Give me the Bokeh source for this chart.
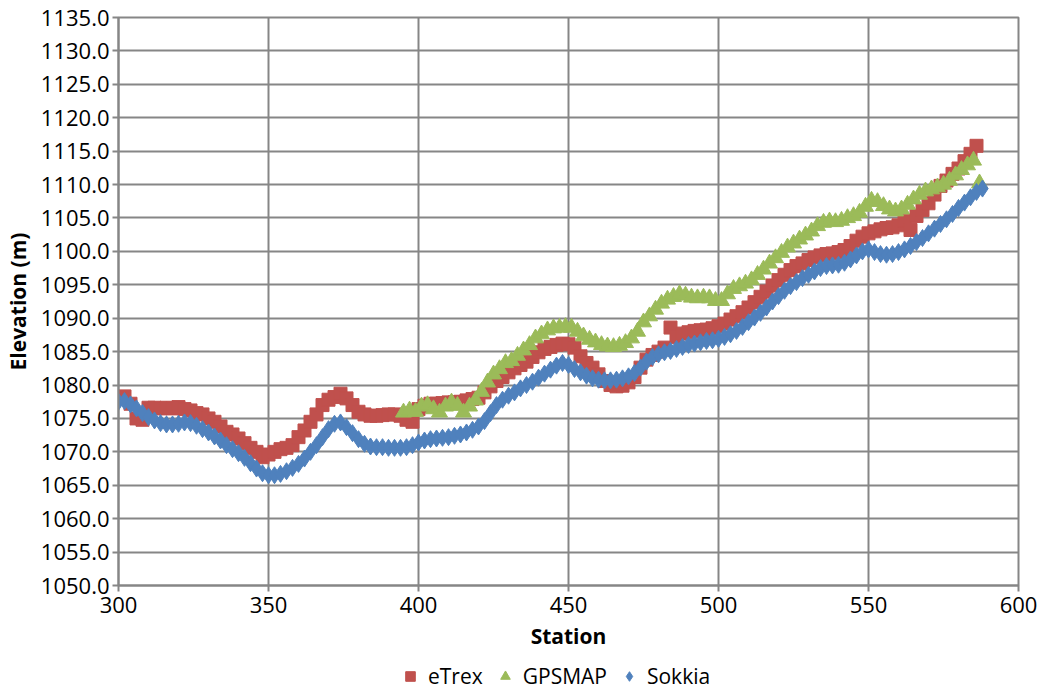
from bokeh.plotting import figure
from bokeh.layouts import column
from bokeh.models import Legend, LegendItem, Range1d, FixedTicker, PrintfTickFormatter
from bokeh.embed import file_html
from bokeh.resources import INLINE

# ---------------- data ----------------
sokkia = [
    1077.5, 1077.6, 1077.1, 1076.5, 1075.8, 1075.2, 1074.7, 1074.3, 1074.1, 1074.1,
    1074.2, 1074.4, 1074.3, 1073.9, 1073.4, 1072.9, 1072.3, 1071.7, 1071.0, 1070.4,
    1069.8, 1069.1, 1068.3, 1067.5, 1066.8, 1066.5, 1066.5, 1066.7, 1067.1, 1067.6,
    1068.2, 1069.0, 1070.0, 1071.0, 1072.2, 1073.4, 1074.2, 1074.4, 1073.7, 1072.8,
    1071.9, 1071.2, 1070.8, 1070.7, 1070.7, 1070.6, 1070.6, 1070.6, 1070.7, 1071.0,
    1071.4, 1071.7, 1071.9, 1072.0, 1072.1, 1072.2, 1072.4, 1072.6, 1072.9, 1073.3,
    1073.8, 1074.6, 1075.8, 1077.0, 1077.8, 1078.4, 1078.9, 1079.5, 1080.0, 1080.5,
    1081.1, 1081.7, 1082.3, 1082.9, 1083.3, 1083.0, 1082.4, 1081.9, 1081.4, 1081.0,
    1080.8, 1080.7, 1080.7, 1080.8, 1081.0, 1081.3, 1081.8, 1082.6, 1083.5, 1084.2,
    1084.6, 1084.9, 1085.1, 1085.4, 1085.7, 1086.0, 1086.2, 1086.4, 1086.6, 1086.7,
    1086.9, 1087.2, 1087.6, 1088.1, 1088.7, 1089.4, 1090.1, 1090.8, 1091.6, 1092.5,
    1093.3, 1094.1, 1094.8, 1095.4, 1096.0, 1096.5, 1097.0, 1097.5, 1097.8, 1097.9,
    1098.0, 1098.3, 1098.8, 1099.4, 1100.0, 1100.3, 1099.9, 1099.6, 1099.5, 1099.6,
    1099.9, 1100.3, 1100.8, 1101.4, 1102.0, 1102.7, 1103.4, 1104.1, 1104.8, 1105.6,
    1106.5, 1107.3, 1108.1, 1108.9, 1109.4,
]
sokkia_station = list(range(300, 300 + 2 * len(sokkia), 2))

etrex = [
    1078.2, 1078.3, 1077.2, 1075.0, 1074.8, 1076.6, 1076.6, 1076.5, 1076.6, 1076.5,
    1076.7, 1076.4, 1076.2, 1075.8, 1075.6, 1075.0, 1074.5, 1073.8, 1073.0, 1072.6,
    1072.0, 1071.3, 1070.6, 1070.0, 1069.2, 1069.6, 1070.0, 1070.4, 1070.6, 1071.0,
    1072.2, 1073.2, 1074.5, 1075.6, 1077.0, 1077.8, 1078.2, 1078.7, 1078.0, 1077.0,
    1076.0, 1075.6, 1075.4, 1075.4, 1075.5, 1075.6, 1075.6, 1075.4, 1074.8, 1074.5,
    1076.4, 1076.9, 1077.2, 1077.2, 1077.3, 1077.4, 1077.4, 1077.5, 1077.7, 1077.9,
    1078.1, 1078.9, 1079.8, 1080.6, 1081.2, 1081.9, 1082.5, 1083.0, 1083.5, 1084.2,
    1084.9, 1085.4, 1085.7, 1086.0, 1086.2, 1086.1, 1085.6, 1084.3, 1083.3, 1082.6,
    1081.6, 1080.6, 1080.0, 1079.8, 1079.9, 1080.4, 1081.2, 1082.6, 1083.8, 1084.5,
    1085.0, 1085.6, 1088.6, 1087.2, 1087.7, 1087.9, 1088.1, 1088.2, 1088.3, 1088.5,
    1088.8, 1089.2, 1089.8, 1090.3, 1090.9, 1091.6, 1092.4, 1093.2, 1094.0, 1094.9,
    1095.7, 1096.5, 1097.2, 1097.8, 1098.2, 1098.7, 1099.1, 1099.4, 1099.6, 1099.7,
    1099.9, 1100.2, 1100.8, 1101.6, 1102.2, 1102.7, 1103.0, 1103.3, 1103.5, 1103.6,
    1103.9, 1104.6, 1103.2, 1105.3, 1106.2, 1107.2, 1108.5, 1109.8, 1110.6, 1111.6,
    1112.4, 1113.5, 1114.6, 1115.8,
]
etrex_station = list(range(300, 300 + 2 * len(etrex), 2))

gpsmap = [
    1075.9, 1076.2, 1076.0, 1076.8, 1077.0, 1076.4, 1075.9, 1076.8, 1077.4, 1076.9,
    1075.9, 1076.8, 1077.7, 1079.0, 1080.4, 1081.6, 1082.4, 1083.3, 1083.6, 1084.4,
    1085.2, 1086.0, 1087.0, 1087.6, 1088.2, 1088.5, 1088.6, 1088.7, 1088.6, 1088.0,
    1087.3, 1086.8, 1086.4, 1086.0, 1085.8, 1085.7, 1085.9, 1086.3, 1087.0, 1088.0,
    1089.4, 1090.3, 1091.3, 1092.2, 1092.8, 1093.2, 1093.6, 1093.4, 1093.1, 1093.0,
    1093.1, 1093.0, 1092.6, 1092.6, 1093.6, 1094.4, 1094.8, 1095.2, 1095.7, 1096.5,
    1097.3, 1098.2, 1099.0, 1099.8, 1100.6, 1101.2, 1101.8, 1102.4, 1103.0, 1103.8,
    1104.3, 1104.5, 1104.4, 1104.6, 1105.0, 1105.3, 1105.8, 1106.7, 1107.6, 1107.4,
    1106.8, 1106.3, 1106.0, 1106.3, 1107.0, 1107.8, 1108.5, 1109.0, 1109.3, 1109.6,
    1110.0, 1110.6, 1111.4, 1112.2, 1112.9, 1113.6, 1110.2,
]
gpsmap_station = list(range(395, 395 + 2 * len(gpsmap), 2))

series_names = ["eTrex", "GPSMAP", "Sokkia"]
x_ticks = [300, 350, 400, 450, 500, 550, 600]
y_ticks = [1050, 1055, 1060, 1065, 1070, 1075, 1080, 1085, 1090, 1095, 1100,
           1105, 1110, 1115, 1120, 1125, 1130, 1135]

RED = "#C0504D"
GREEN = "#9BBB59"
BLUE = "#4F81BD"
GRID = "#868686"
FONT = "Open Sans"

STYLES = [("square", 13, RED), ("triangle", 16, GREEN), ("diamond", 17, BLUE)]
SERIES = [(etrex_station, etrex), (gpsmap_station, gpsmap), (sokkia_station, sokkia)]

p = figure(
    frame_width=900, frame_height=568,
    x_range=Range1d(300, 600), y_range=Range1d(1050, 1135),
    output_backend="svg", toolbar_location=None,
    min_border_left=117, min_border_right=30, min_border_top=17, min_border_bottom=70,
    background_fill_color="white", border_fill_color="white",
)
p.outline_line_color = GRID
p.outline_line_width = 2

for (xs, ys), (mk, sz, col) in zip(SERIES, STYLES):
    p.scatter(xs, ys, marker=mk, size=sz, fill_color=col, line_color=col)

for ax, ticks in ((p.xaxis[0], x_ticks), (p.yaxis[0], y_ticks)):
    ax.ticker = FixedTicker(ticks=ticks)
    ax.axis_line_color = GRID
    ax.axis_line_width = 2
    ax.major_tick_line_color = GRID
    ax.major_tick_line_width = 2
    ax.major_tick_out = 6
    ax.major_tick_in = 0
    ax.minor_tick_line_color = None
    ax.major_label_text_font = FONT
    ax.major_label_text_font_size = "22px"
    ax.major_label_text_color = "black"
    ax.axis_label_text_font = FONT
    ax.axis_label_text_font_style = "bold"
    ax.axis_label_text_font_size = "21px"
    ax.axis_label_text_color = "black"

p.yaxis[0].formatter = PrintfTickFormatter(format="%.1f")
p.yaxis[0].axis_label = "Elevation (m)"
p.yaxis[0].major_label_standoff = 3
p.yaxis[0].axis_label_standoff = 6
p.xaxis[0].axis_label = "Station"
p.xaxis[0].major_label_standoff = 5
p.xaxis[0].axis_label_standoff = 6

for g in (p.xgrid[0], p.ygrid[0]):
    g.grid_line_color = GRID
    g.grid_line_width = 2
p.xgrid[0].ticker = FixedTicker(ticks=x_ticks)
p.ygrid[0].ticker = FixedTicker(ticks=y_ticks)

# ---- legend strip below the chart (same series, ranges chosen so no marks show) ----
lp = figure(
    width=1047, height=38, x_range=Range1d(0, 1), y_range=Range1d(0, 1),
    output_backend="svg", toolbar_location=None, min_border=0,
    background_fill_color="white", border_fill_color="white",
)
lp.axis.visible = False
lp.grid.visible = False
lp.outline_line_color = None
items = []
for name, (xs, ys), (mk, sz, col) in zip(series_names, SERIES, STYLES):
    r = lp.scatter(xs, ys, marker=mk, size=sz, fill_color=col, line_color=col)
    items.append(LegendItem(label=name, renderers=[r]))

legend = Legend(
    items=items, orientation="horizontal", location=(280, 3),
    label_text_font=FONT, label_text_font_size="21px", label_text_color="black",
    glyph_width=24, glyph_height=24, label_standoff=6, spacing=10,
    padding=0, margin=0, border_line_color=None, background_fill_alpha=0,
)
lp.add_layout(legend, "center")

layout = column(p, lp, spacing=0)
open("out.html", "w").write(file_html(layout, INLINE))
